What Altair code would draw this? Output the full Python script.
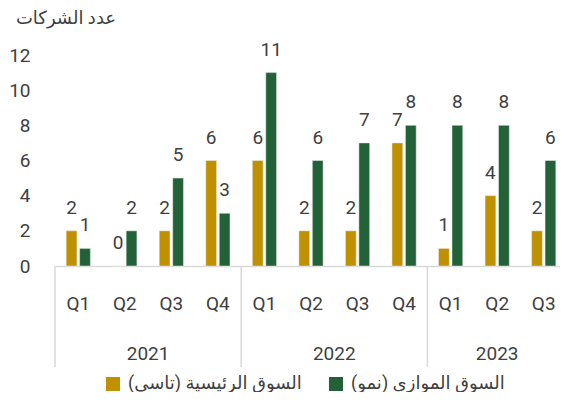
import altair as alt
import pandas as pd

years = ["2021", "2022", "2023"]
quarters = [["Q1", "Q2", "Q3", "Q4"], ["Q1", "Q2", "Q3", "Q4"], ["Q1", "Q2", "Q3"]]
tasi = [2, 0, 2, 6, 6, 2, 2, 7, 1, 4, 2]
nomu = [1, 2, 5, 3, 11, 6, 7, 8, 8, 8, 6]
series_names = ["السوق الرئيسية (تاسي)\u200f", "السوق الموازي (نمو)\u200f"]
colors = ["#BF9000", "#236238"]
y_title = "عدد الشركات"
y_ticks = [0, 2, 4, 6, 8, 10, 12]

keys = [f"{y}-{q}" for y, qs in zip(years, quarters) for q in qs]
rows = []
for k, a, b in zip(keys, tasi, nomu):
    rows.append({"key": k, "series": series_names[0], "value": a})
    rows.append({"key": k, "series": series_names[1], "value": b})
df = pd.DataFrame(rows)

# year groups (start/end index in quarter units)
yr_rows = []
pos = 0
for y, qs in zip(years, quarters):
    yr_rows.append({"year": y, "start": pos, "end": pos + len(qs), "mid": pos + len(qs) / 2})
    pos += len(qs)
yr_df = pd.DataFrame(yr_rows)
sep_df = pd.DataFrame({"b": [0] + list(yr_df["end"])})

N = len(keys)
RANGE = [0, 512]
TXT = "#404040"
GRID = "#D9D9D9"

xband = alt.X("key:N", sort=keys,
              scale=alt.Scale(domain=keys, range=RANGE, paddingInner=0.48, paddingOuter=0.24),
              axis=alt.Axis(title=None, labelExpr="split(datum.label, '-')[1]", labelAngle=0,
                            ticks=False, tickSize=0, labelPadding=43, labelBaseline="alphabetic",
                            labelFontSize=19, labelColor=TXT, domainColor=GRID, domainWidth=1.5,
                            grid=False))
xoff = alt.XOffset("series:N", scale=alt.Scale(domain=series_names, paddingInner=0.2))
yenc = alt.Y("value:Q", scale=alt.Scale(domain=[0, 12], nice=False),
             axis=alt.Axis(values=y_ticks, title=y_title, titleAngle=0, titleX=10.5, titleY=-37,
                           titleAlign="center", titleBaseline="middle", titleFontSize=18,
                           titleFontWeight="normal", titleColor=TXT, labelFontSize=19,
                           labelColor=TXT, labelPadding=25, labelOverlap=False,
                           domain=False, ticks=False, grid=False))
color = alt.Color("series:N", scale=alt.Scale(domain=series_names, range=colors),
                  legend=alt.Legend(title=None, orient="none", legendX=49, legendY=320,
                                    direction="horizontal", symbolType="square", symbolSize=196,
                                    symbolStrokeWidth=0, labelFontSize=18, labelColor=TXT,
                                    labelLimit=400, columnPadding=25, labelOffset=6))

base = alt.Chart(df).encode(x=xband, xOffset=xoff, y=yenc)
bars = base.mark_bar(stroke="#E8EFE8", strokeWidth=0.5).encode(color=color)
labels = base.mark_text(baseline="alphabetic", dy=-17, fontSize=19, color=TXT).encode(
    text="value:Q")
main = alt.layer(bars, labels)

xq = alt.Scale(domain=[0, N], range=RANGE, nice=False, zero=False)
seps = alt.Chart(sep_df).mark_rule(color=GRID, strokeWidth=1.5).encode(
    x=alt.X("b:Q", scale=xq, axis=None), y=alt.value(211), y2=alt.value(312))
yrs = alt.Chart(yr_df).mark_text(baseline="alphabetic", fontSize=19, color=TXT).encode(
    x=alt.X("mid:Q", scale=xq, axis=None), y=alt.value(305), text="year:N")
deco = alt.layer(seps, yrs)

chart = alt.layer(main, deco).resolve_scale(x="independent").properties(
    width=505, height=211,
    padding={"left": 47, "top": 47, "right": 0, "bottom": 126},
    autosize=alt.AutoSizeParams(type="none"),
).configure(font="Roboto, DejaVu Sans").configure_view(stroke=None)

chart.save("out.html", embed_options={"renderer": "svg", "actions": False})
